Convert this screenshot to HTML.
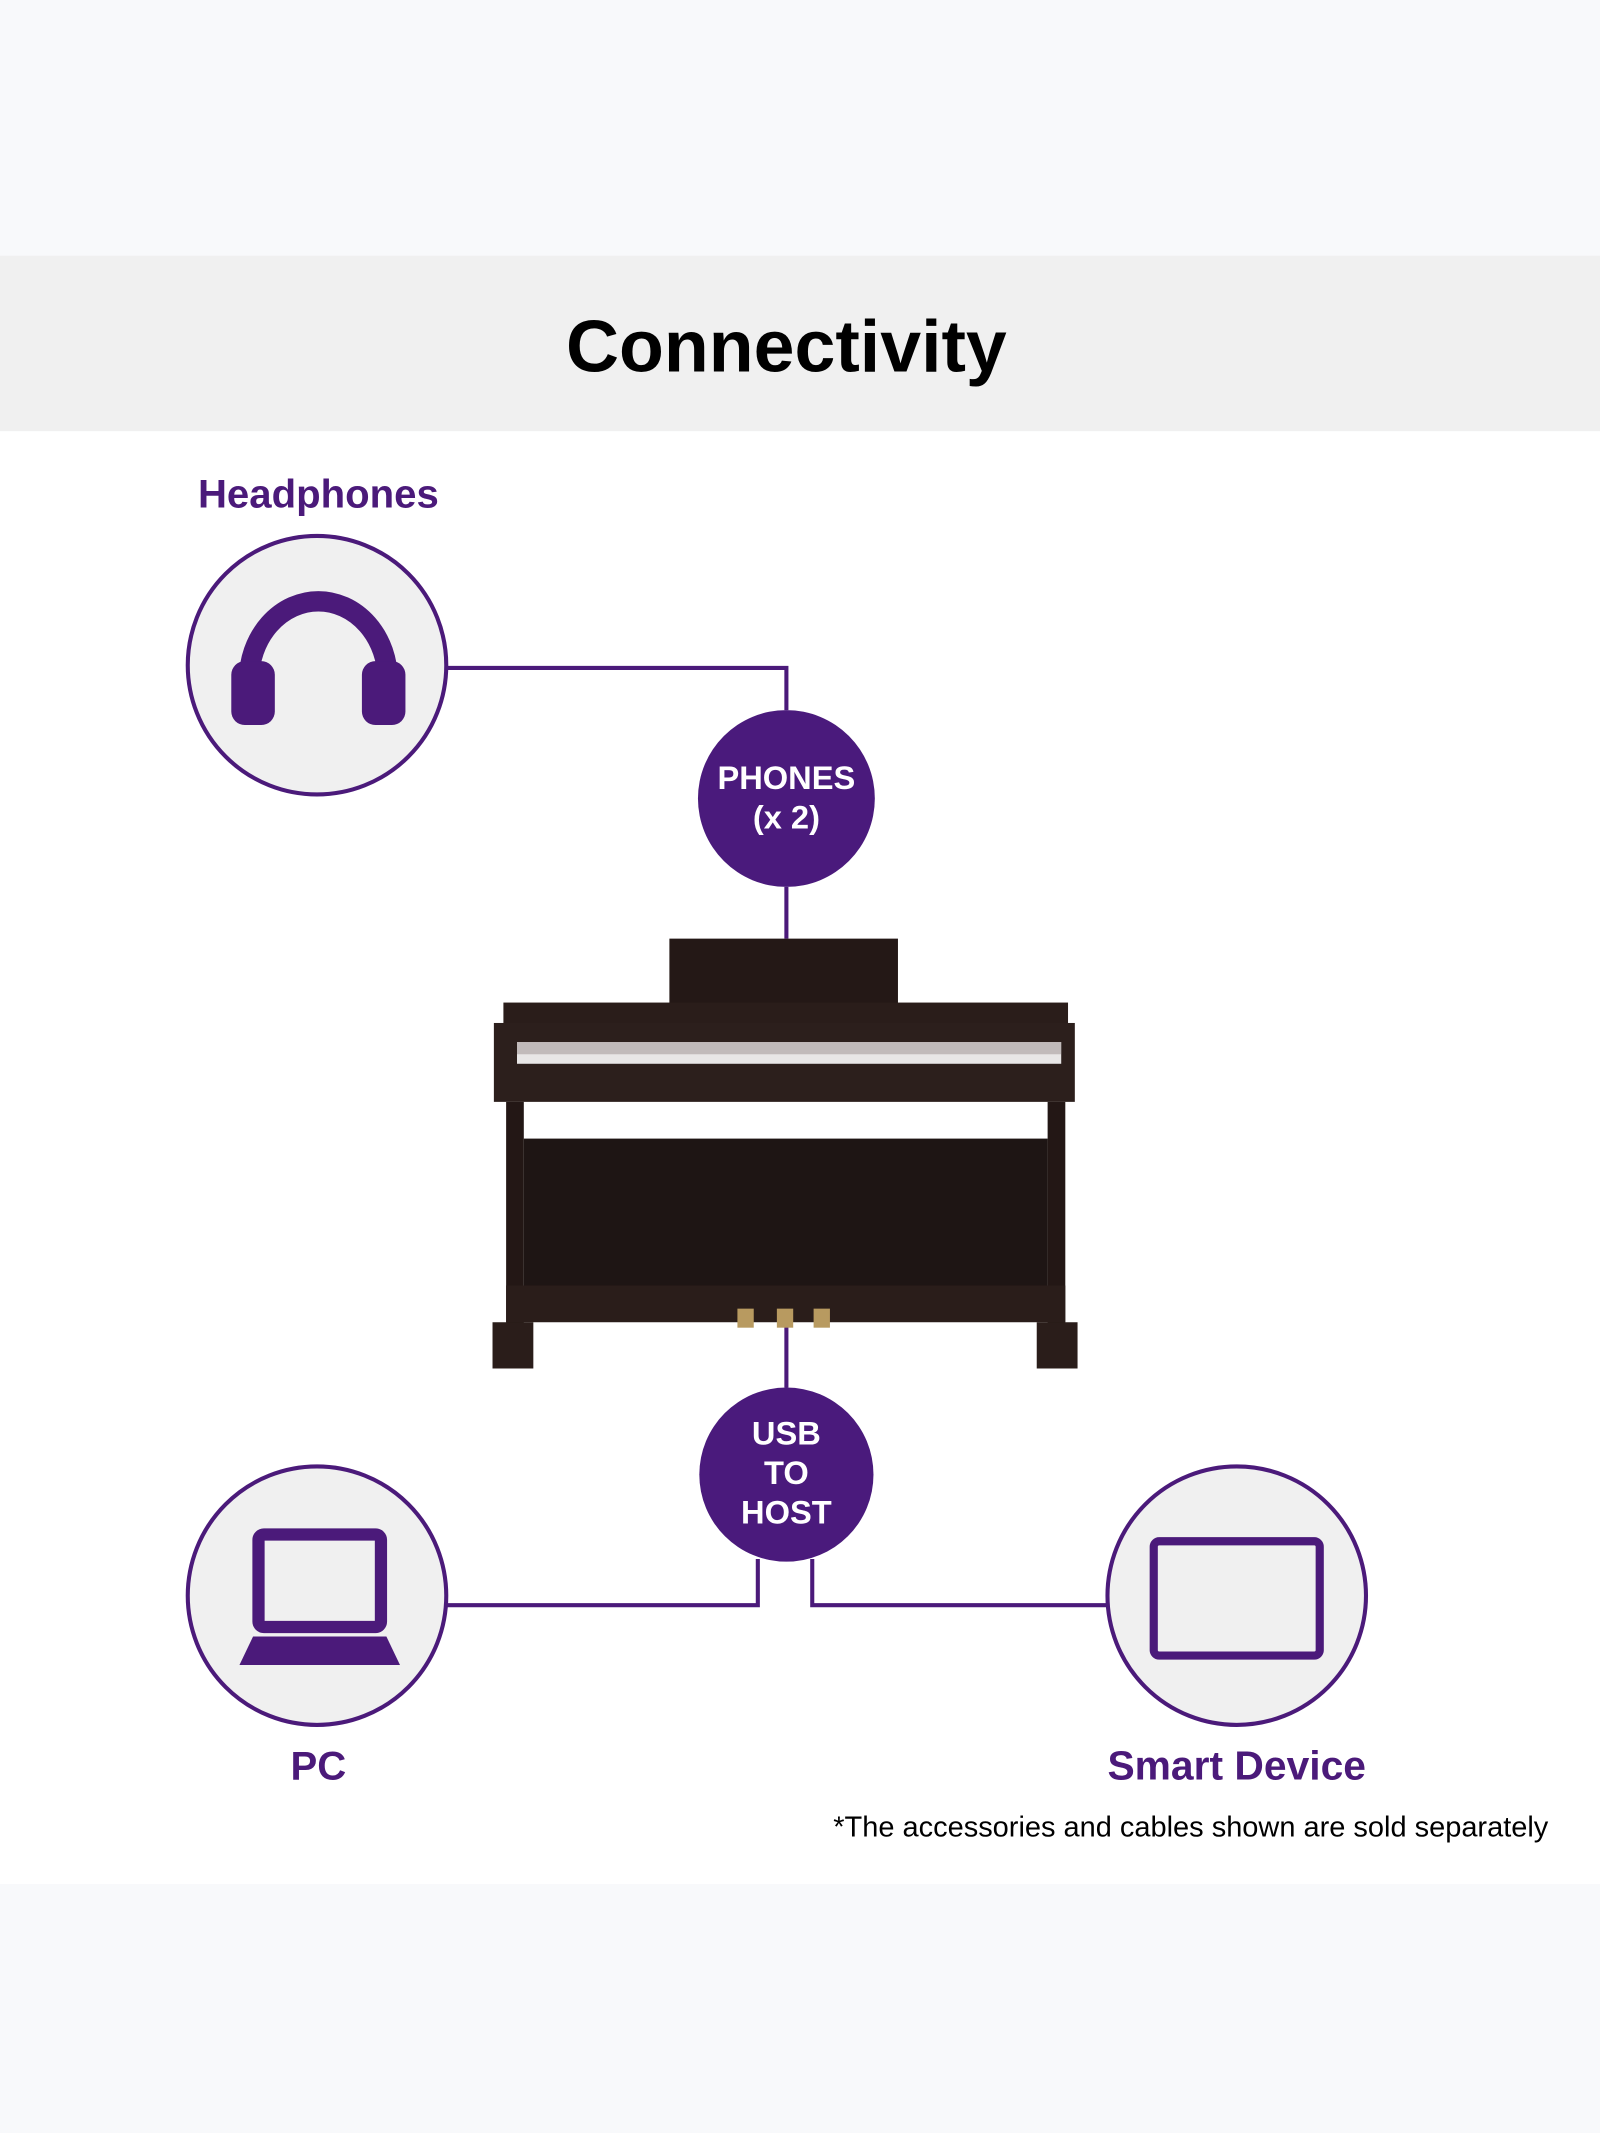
<!DOCTYPE html>
<html><head><meta charset="utf-8"><style>
html,body{margin:0;padding:0;background:#f8f9fb}
svg{display:block}
text{font-family:"Liberation Sans",sans-serif}
</style></head><body>
<svg width="1600" height="2133" viewBox="0 0 1176 1568" preserveAspectRatio="none" xmlns="http://www.w3.org/2000/svg">
<rect x="0" y="0" width="1176" height="1568" fill="#f8f9fb"/>
<rect x="0" y="188" width="1176" height="129" fill="#f0f0f0"/>
<rect x="0" y="317" width="1176" height="1068" fill="#ffffff"/>
<text x="578" y="273" text-anchor="middle" font-size="54" font-weight="bold" fill="#000">Connectivity</text>
<text x="234" y="373" text-anchor="middle" font-size="29.5" font-weight="bold" fill="#4b1a7a">Headphones</text>
<g stroke="#4b1a7a" stroke-width="3" fill="none">
<polyline points="328,491 578,491 578,522"/>
<line x1="578" y1="652" x2="578" y2="690"/>
<line x1="578" y1="975" x2="578" y2="1020"/>
<polyline points="557,1146 557,1180 328,1180"/>
<polyline points="597,1146 597,1180 813,1180"/>
<circle cx="233" cy="489" r="95" fill="#f0f0f0"/>
<circle cx="233" cy="1173" r="95" fill="#f0f0f0"/>
<circle cx="909" cy="1173" r="95" fill="#f0f0f0"/>
</g>
<path d="M183,500 A51,58 0 0 1 285,500" stroke="#4b1a7a" stroke-width="15" fill="none"/>
<rect x="170" y="486" width="32" height="47" rx="10" fill="#4b1a7a"/>
<rect x="266" y="486" width="32" height="47" rx="10" fill="#4b1a7a"/>
<rect x="190" y="1128" width="90" height="68" rx="4" stroke="#4b1a7a" stroke-width="9" fill="none"/>
<path d="M186,1203 L284,1203 L294,1224 L176,1224 Z" fill="#4b1a7a"/>
<rect x="848" y="1133" width="122" height="84" rx="4" stroke="#4b1a7a" stroke-width="6" fill="none"/>
<circle cx="578" cy="587" r="65" fill="#4a1a7c"/>
<text x="578" y="580" text-anchor="middle" font-size="24" font-weight="bold" fill="#fff">PHONES</text>
<text x="578" y="609" text-anchor="middle" font-size="24" font-weight="bold" fill="#fff">(x 2)</text>
<circle cx="578" cy="1084" r="64" fill="#4a1a7c"/>
<text x="578" y="1062" text-anchor="middle" font-size="24" font-weight="bold" fill="#fff">USB</text>
<text x="578" y="1091" text-anchor="middle" font-size="24" font-weight="bold" fill="#fff">TO</text>
<text x="578" y="1120" text-anchor="middle" font-size="24" font-weight="bold" fill="#fff">HOST</text>
<rect x="492" y="690" width="168" height="50" fill="#241816"/>
<rect x="370" y="737" width="415" height="16" fill="#2a1d1a"/>
<rect x="363" y="752" width="427" height="58" fill="#2c1f1c"/>
<rect x="380" y="766" width="400" height="16" fill="#e8e6e6"/>
<rect x="380" y="766" width="400" height="9" fill="#9a8e8e" opacity="0.5"/>
<rect x="372" y="810" width="13" height="165" fill="#231715"/>
<rect x="770" y="810" width="13" height="165" fill="#231715"/>
<rect x="385" y="837" width="385" height="110" fill="#1e1514"/>
<rect x="372" y="945" width="411" height="27" fill="#2a1d1a"/>
<rect x="362" y="972" width="30" height="34" fill="#2a1d1a"/>
<rect x="762" y="972" width="30" height="34" fill="#2a1d1a"/>
<rect x="542" y="962" width="12" height="14" fill="#b89a60"/>
<rect x="571" y="962" width="12" height="14" fill="#b89a60"/>
<rect x="598" y="962" width="12" height="14" fill="#b89a60"/>
<text x="234" y="1308" text-anchor="middle" font-size="29.5" font-weight="bold" fill="#4b1a7a">PC</text>
<text x="909" y="1308" text-anchor="middle" font-size="30" font-weight="bold" fill="#4b1a7a">Smart Device</text>
<text x="1138" y="1350" text-anchor="end" font-size="21.3" fill="#000">*The accessories and cables shown are sold separately</text>
</svg>
</body></html>
